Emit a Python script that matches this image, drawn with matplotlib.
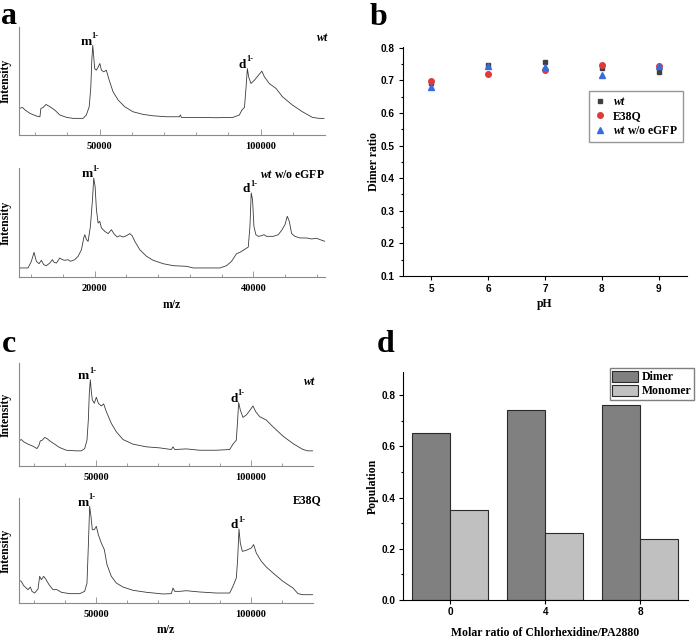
"""Mass spectra, dimer ratio vs pH and dimer/monomer population."""

import numpy as np
import matplotlib
matplotlib.use("Agg")
import matplotlib.pyplot as plt


W, H = 696, 639

plt.rcParams["font.family"] = "Liberation Serif"
plt.rcParams["font.weight"] = "bold"
plt.rcParams["axes.labelweight"] = "bold"
plt.rcParams["mathtext.fontset"] = "custom"
plt.rcParams["mathtext.rm"] = "Liberation Serif:bold"
plt.rcParams["mathtext.it"] = "Liberation Serif:italic:bold"
plt.rcParams["mathtext.bf"] = "Liberation Serif:bold"

# ---- spectra (m/z, relative intensity) ----
A_WT_MZ = [25100, 26100, 26900, 28400, 30500, 31500, 31800, 32500, 33400, 34600,
           36100, 37700, 39800, 41800, 44900, 45900, 46800, 47300, 47600, 47900,
           48200, 48500, 49000, 49600, 50100, 50600, 51300, 52100, 53000, 54200,
           55800, 57800, 60400, 63500, 66600, 70700, 74800, 75100, 75400, 81000,
           86200, 91400, 93400, 94200, 95000, 95500, 95900, 96300, 97000, 98100,
           99600, 100400, 101200, 102700, 104800, 106800, 109900, 113000, 116100, 118200,
           119700]
A_WT_INT = [24.6, 25.5, 23.1, 20.0, 17.5, 16.9, 24.6, 25.5, 28.3, 26.2,
            23.1, 18.5, 16.3, 15.4, 15.4, 18.5, 26.2, 44.6, 69.2, 83.1,
            72.3, 61.5, 60.0, 63.1, 66.2, 60.0, 58.5, 60.0, 50.8, 40.0,
            32.3, 26.2, 21.5, 19.1, 17.8, 16.9, 16.9, 18.5, 16.3, 16.3,
            16.0, 16.3, 18.5, 23.1, 25.5, 44.6, 61.5, 53.8, 47.7, 50.8,
            56.3, 59.1, 53.8, 47.7, 43.1, 35.4, 27.7, 21.5, 16.3, 15.4,
            15.4]

A_NOGFP_MZ = [10440, 11580, 12000, 12340, 12630, 12970, 13260, 13560, 13900, 14320,
              14650, 14860, 15160, 15580, 15920, 16210, 16630, 16930, 17470, 17900,
              18320, 18610, 18740, 18950, 19160, 19450, 19710, 19870, 20040, 20210,
              20420, 20630, 20840, 21260, 21680, 22110, 22400, 22820, 23160, 23580,
              24000, 24420, 24720, 25050, 25680, 26530, 27370, 28630, 29890, 31580,
              32420, 34100, 35790, 36630, 37260, 37890, 38310, 38730, 39370, 39580,
              39740, 39910, 40080, 40330, 40630, 41050, 41340, 41680, 42520, 43150,
              43580, 44000, 44290, 44540, 44840, 45260, 45890, 46730, 47370, 48000,
              48420, 49050]
A_NOGFP_INT = [8.3, 8.3, 14.4, 22.6, 14.4, 12.2, 15.3, 11.3, 10.4, 12.8,
               15.9, 13.5, 12.8, 17.4, 15.9, 15.3, 15.9, 14.4, 15.9, 19.0,
               25.1, 35.8, 38.8, 34.3, 32.7, 46.5, 70.9, 90.8, 83.2, 61.8,
               49.5, 51.1, 45.0, 41.9, 39.8, 43.4, 39.8, 36.7, 37.9, 36.7,
               37.9, 39.8, 37.9, 32.7, 25.1, 19.0, 15.3, 12.2, 10.4, 9.8,
               8.3, 8.3, 8.3, 10.4, 14.4, 21.4, 22.6, 24.5, 27.5, 46.5,
               77.1, 70.9, 46.5, 38.8, 37.3, 37.9, 38.8, 37.3, 37.3, 38.8,
               42.8, 48.0, 55.7, 51.1, 39.8, 37.3, 35.8, 35.8, 34.9, 35.5,
               34.3, 32.7]

C_WT_MZ = [25000, 25750, 26510, 27910, 29520, 30820, 31460, 31890, 32540, 33290,
           34050, 34910, 36520, 38140, 40290, 43520, 45140, 46220, 46970, 47400,
           47720, 48050, 48370, 48690, 49340, 49990, 50630, 51600, 52360, 53220,
           54830, 56450, 58600, 61830, 66140, 70450, 74220, 74760, 75300, 79070,
           83370, 88760, 93070, 94140, 95220, 95650, 95970, 96510, 97370, 98450,
           99530, 100600, 101470, 102760, 104910, 107070, 110300, 113530, 116760, 118380,
           120000]
C_WT_INT = [24.4, 25.7, 23.5, 21.2, 19.2, 16.9, 20.2, 24.4, 25.1, 27.7,
            26.7, 24.4, 21.2, 17.9, 15.3, 14.7, 14.7, 16.9, 25.1, 44.6,
            70.7, 83.7, 72.3, 64.2, 60.9, 66.8, 60.9, 58.3, 60.3, 52.8,
            41.4, 33.2, 25.7, 21.2, 18.6, 17.6, 16.0, 18.6, 16.0, 16.6,
            15.3, 15.3, 16.0, 21.2, 25.1, 44.6, 61.6, 54.4, 47.2, 49.5,
            53.7, 58.3, 52.8, 47.9, 44.6, 38.1, 29.0, 21.8, 16.0, 14.7,
            14.7]

C_E38Q_MZ = [25000, 25750, 26510, 27910, 28660, 29200, 30060, 31140, 31680, 32220,
             32970, 33620, 34690, 35990, 37280, 38680, 41370, 44600, 46220, 46970,
             47400, 47830, 48260, 48690, 49340, 49990, 50630, 51600, 52570, 53430,
             54830, 56450, 58600, 61830, 66140, 71530, 74220, 74760, 75300, 76910,
             79070, 83370, 88760, 93070, 94140, 95220, 95650, 96080, 96510, 97160,
             98450, 100070, 100820, 101680, 103300, 104910, 107070, 110300, 113530, 115140,
             116760, 120000]
C_E38Q_INT = [21.6, 20.6, 16.5, 12.7, 15.2, 11.1, 9.5, 13.3, 25.4, 22.2,
              25.4, 22.9, 17.5, 12.7, 12.7, 10.2, 8.9, 8.9, 11.1, 19.0,
              54.0, 92.1, 82.5, 69.8, 69.8, 73.0, 65.1, 57.1, 50.8, 36.5,
              25.4, 19.0, 15.2, 12.1, 10.2, 8.6, 8.9, 14.3, 11.1, 11.1,
              11.7, 10.5, 9.5, 9.5, 15.9, 23.8, 41.3, 70.5, 57.1, 49.2,
              50.2, 52.4, 55.6, 47.6, 39.7, 34.3, 28.6, 20.6, 14.3, 8.9,
              7.9, 7.9]

# ---- dimer ratio vs pH ----
PH = [5, 6, 7, 8, 9]
RATIO_WT = [0.692, 0.747, 0.757, 0.737, 0.724]
RATIO_E38Q = [0.698, 0.719, 0.730, 0.747, 0.744]
RATIO_WT_NOGFP = [0.678, 0.745, 0.740, 0.716, 0.743]

# ---- population vs chlorhexidine ----
CHX_RATIO = ["0", "4", "8"]
DIMER = [0.65, 0.74, 0.76]
MONOMER = [0.35, 0.26, 0.24]


def axes_px(fig, left, top, right, bottom):
    return fig.add_axes([left / W, 1 - bottom / H, (right - left) / W, (bottom - top) / H])


def spectrum(ax, mz, inten, xlim, major, minor, tag, tag_pos, xlabel=False):
    ax.plot(mz, inten, color="#3a3a3a", lw=0.6)
    ax.set_xlim(xlim)
    ax.set_ylim(0, 100)
    for s in ["top", "right"]:
        ax.spines[s].set_visible(False)
    for s in ["left", "bottom"]:
        ax.spines[s].set_color("#8a8a8a")
        ax.spines[s].set_linewidth(0.8)
    ax.set_yticks([])
    ax.set_xticks(major)
    ax.set_xticks(minor, minor=True)
    ax.tick_params(axis="x", which="major", direction="in", length=4, width=0.6,
                   color="#8a8a8a", labelsize=7.5, pad=5)
    ax.tick_params(axis="x", which="minor", direction="in", length=2, width=0.6,
                   color="#8a8a8a")
    ax.set_ylabel("Intensity", fontsize=8.5)
    ax.yaxis.set_label_coords(-0.024, 0.5)
    if xlabel:
        ax.set_xlabel("m/z", fontsize=8.5)
        ax.xaxis.set_label_coords(0.5, -0.2)

    # label the monomer and dimer peaks
    mz = np.asarray(mz)
    inten = np.asarray(inten)
    split = (xlim[0] + xlim[1]) / 2
    for letter, sel in (("m", mz < split), ("d", mz >= split)):
        i = np.argmax(np.where(sel, inten, -1))
        ax.annotate(letter, xy=(mz[i], inten[i]), xytext=(-0.8, 0.5),
                    textcoords="offset points", ha="right", va="baseline", fontsize=9.5)
        ax.annotate("1-", xy=(mz[i], inten[i]), xytext=(-0.8, 5.2),
                    textcoords="offset points", ha="left", va="baseline", fontsize=6)

    ax.text(tag_pos[0], tag_pos[1], tag, transform=ax.transAxes,
            ha="right", va="center", fontsize=8.5)


def ratio_plot(ax):
    ax.plot(PH, RATIO_WT, "s", color="#404040", ms=3.4, label=r"$\mathit{wt}$")
    ax.plot(PH, RATIO_E38Q, "o", color="#e03a3a", ms=4.0, label="E38Q")
    ax.plot(PH, RATIO_WT_NOGFP, "^", color="#3a6bdc", ms=4.2,
            label=r"$\mathit{wt}$ w/o eGFP")
    ax.set_xlim(4.5, 9.5)
    ax.set_ylim(0.1, 0.802)
    ax.set_xticks(PH)
    ax.set_yticks(np.arange(0.1, 0.81, 0.1))
    ax.set_yticks(np.arange(0.15, 0.8, 0.1), minor=True)
    ax.set_yticklabels(["%.1f" % v for v in np.arange(0.1, 0.81, 0.1)])
    for s in ["top", "right"]:
        ax.spines[s].set_visible(False)
    ax.tick_params(which="major", length=3, width=0.8, labelsize=7.2, pad=3)
    ax.tick_params(which="minor", length=1.8, width=0.8)
    for lbl in ax.get_xticklabels() + ax.get_yticklabels():
        lbl.set_fontfamily("Liberation Sans")
    ax.set_xlabel("pH", fontsize=8.5)
    ax.set_ylabel("Dimer ratio", fontsize=8.5)
    ax.xaxis.set_label_coords(0.5, -0.095)
    ax.yaxis.set_label_coords(-0.08, 0.5)
    ax.legend(loc="upper right", bbox_to_anchor=(0.987, 0.809), borderaxespad=0,
              prop={"family": "Liberation Serif", "weight": "bold", "size": 8.5},
              fancybox=False, edgecolor="#7f7f7f", handlelength=1.0,
              handletextpad=0.6, borderpad=0.45, labelspacing=0.2)


def population_plot(ax):
    x = np.arange(len(CHX_RATIO))
    ax.bar(x - 0.2, DIMER, width=0.4, color="#808080", edgecolor="#2a2a2a",
           lw=0.8, label="Dimer")
    ax.bar(x + 0.2, MONOMER, width=0.4, color="#c0c0c0", edgecolor="#2a2a2a",
           lw=0.8, label="Monomer")
    ax.set_xlim(-0.5, 2.5)
    ax.set_ylim(0, 0.89)
    ax.set_xticks(x)
    ax.set_xticklabels(CHX_RATIO)
    ax.set_yticks([0.0, 0.2, 0.4, 0.6, 0.8])
    ax.set_yticklabels(["0.0", "0.2", "0.4", "0.6", "0.8"])
    ax.set_yticks([0.1, 0.3, 0.5, 0.7], minor=True)
    for s in ["top", "right"]:
        ax.spines[s].set_visible(False)
    ax.tick_params(which="major", length=3, width=0.8, labelsize=7.2, pad=2)
    ax.tick_params(which="minor", length=1.8, width=0.8)
    for lbl in ax.get_xticklabels() + ax.get_yticklabels():
        lbl.set_fontfamily("Liberation Sans")
    ax.set_xlabel("Molar ratio of Chlorhexidine/PA2880", fontsize=8.5)
    ax.set_ylabel("Population", fontsize=8.5)
    ax.xaxis.set_label_coords(0.5, -0.12)
    ax.yaxis.set_label_coords(-0.085, 0.5)
    ax.legend(loc="upper right", bbox_to_anchor=(1.021, 1.016), borderaxespad=0,
              prop={"family": "Liberation Serif", "weight": "bold", "size": 8.5},
              fancybox=False, edgecolor="#7f7f7f", framealpha=1,
              handlelength=2.2, handleheight=1.1, handletextpad=0.3,
              borderpad=0.2, labelspacing=0.1)


if __name__ == "__main__":
    fig = plt.figure(figsize=(W / 100, H / 100), dpi=100)

    ax = axes_px(fig, 19, 27, 325, 135)
    spectrum(ax, A_WT_MZ, A_WT_INT, (25000, 120000), [50000, 100000],
             np.arange(30000, 120000, 10000), r"$\mathit{wt}$", (1.016, 0.9))

    ax = axes_px(fig, 19, 168, 325, 277)
    spectrum(ax, A_NOGFP_MZ, A_NOGFP_INT, (10440, 49050), [20000, 40000],
             np.arange(12000, 49000, 4000), r"$\mathit{wt}$ w/o eGFP", (1.0, 0.94),
             xlabel=True)

    ax = axes_px(fig, 19, 363, 313, 466)
    spectrum(ax, C_WT_MZ, C_WT_INT, (25000, 120000), [50000, 100000],
             np.arange(30000, 120000, 10000), r"$\mathit{wt}$", (1.012, 0.82))

    ax = axes_px(fig, 19, 498, 313, 603)
    spectrum(ax, C_E38Q_MZ, C_E38Q_INT, (25000, 120000), [50000, 100000],
             np.arange(30000, 120000, 10000), "E38Q", (1.029, 0.98), xlabel=True)

    ratio_plot(axes_px(fig, 403, 47, 687, 276))
    population_plot(axes_px(fig, 403, 372, 688, 600))

    for letter, (px, py) in zip("abcd", [(1, 24), (370, 25), (2, 352), (377, 352)]):
        fig.text(px / W, 1 - py / H, letter, fontsize=23, fontweight="bold",
                 ha="left", va="baseline")

    fig.savefig("out.png", dpi=100)
